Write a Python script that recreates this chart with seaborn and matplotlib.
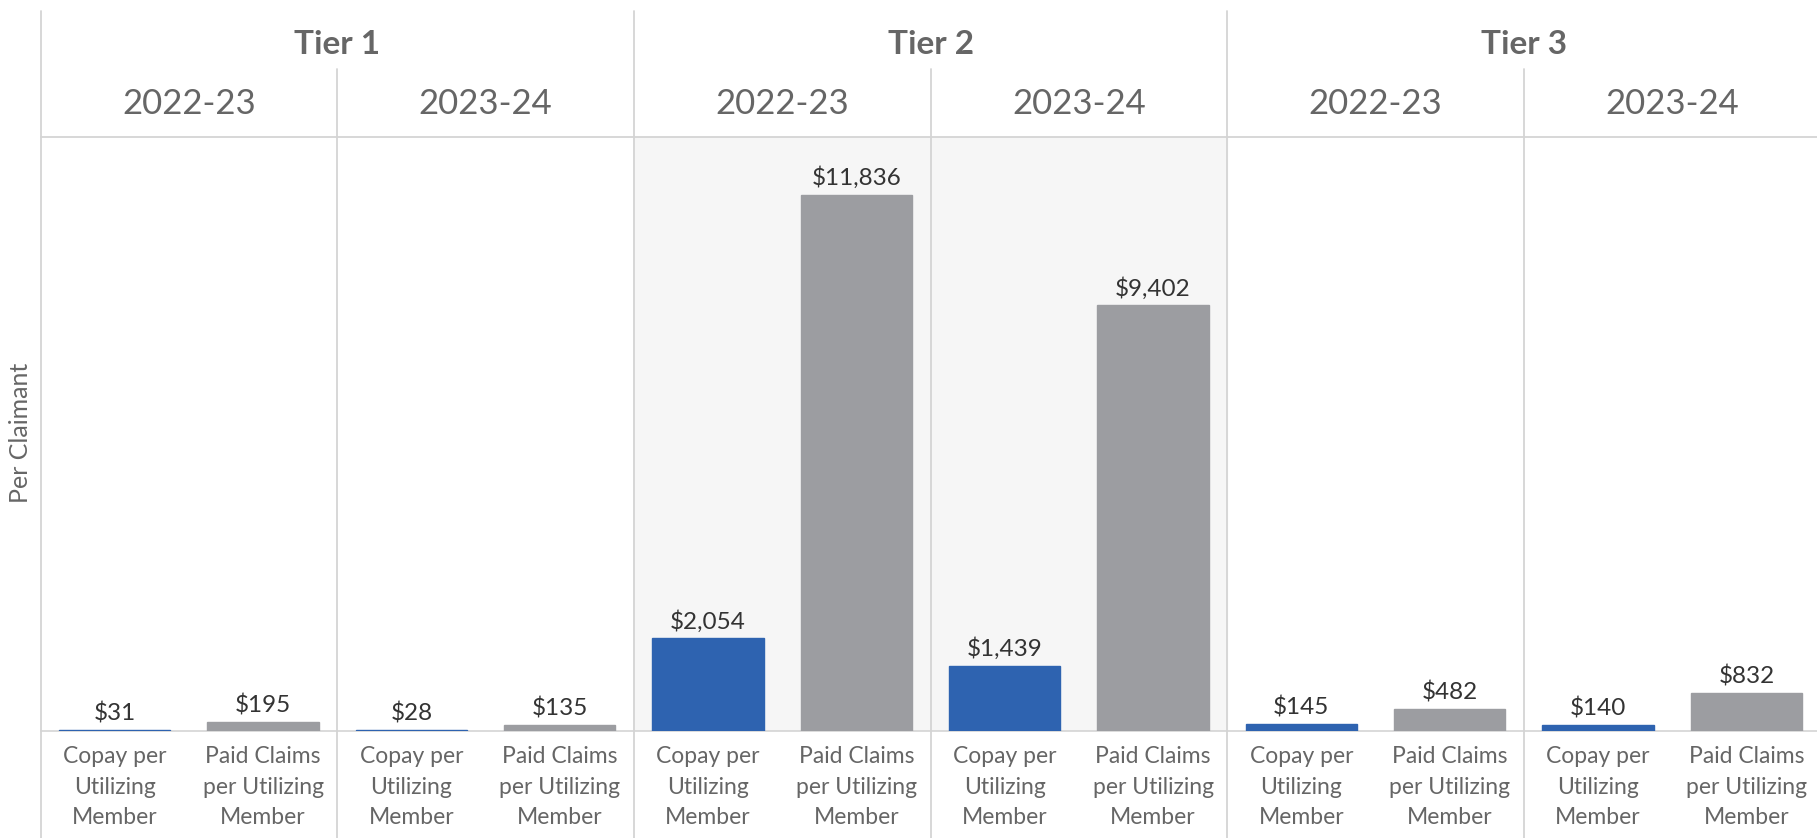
import pandas as pd
import matplotlib.pyplot as plt
import matplotlib.transforms as mtransforms
from matplotlib.lines import Line2D
import seaborn as sns

# Datos del grafico
tiers = ['Tier 1', 'Tier 2', 'Tier 3']
years = ['2022-23', '2023-24']
measures = ['Copay per\nUtilizing\nMember', 'Paid Claims\nper Utilizing\nMember']
copay = [31, 28, 2054, 1439, 145, 140]
paid = [195, 135, 11836, 9402, 482, 832]

# Tabla larga: un registro por barra
rows = []
k = 0
for t in tiers:
    for y in years:
        rows.append({'slot': f'{t}|{y}|c', 'measure': 'copay', 'value': copay[k]})
        rows.append({'slot': f'{t}|{y}|p', 'measure': 'paid', 'value': paid[k]})
        k += 1
df = pd.DataFrame(rows)

sns.set_theme(style='white')
plt.rcParams['font.family'] = ['Lato', 'DejaVu Sans']

W, H = 1817, 838
fig = plt.figure(figsize=(W / 100, H / 100), dpi=100)
ax = fig.add_axes([40.6 / W, 1 - 731 / H, 1 - 40.6 / W, (731 - 137) / H])

# Fondo gris del Tier 2
ax.axvspan(3.5, 7.5, color='#f6f6f6', zorder=0, lw=0)

sns.barplot(data=df, x='slot', y='value', hue='measure',
            palette={'copay': '#2e63b0', 'paid': '#9c9da1'}, saturation=1,
            width=0.75, dodge=False, legend=False, ax=ax, zorder=3)

# borde del mismo color para que las barras pequeñas se vean
for p in ax.patches:
    p.set_edgecolor(p.get_facecolor())
    p.set_linewidth(1.0)

for cont in ax.containers:
    ax.bar_label(cont, labels=[f'${v:,.0f}' for v in cont.datavalues],
                 padding=4, fontsize=17.5, color='#333333')

ax.set_ylim(0, 13114)
ax.set_xlim(-0.5, 11.476)
ax.set_yticks([])
ax.set_xlabel('')
ax.set_ylabel('')
ax.set_xticks(range(12))
ax.set_xticklabels(measures * 6, fontsize=16.5, color='#666666', linespacing=1.56)
ax.tick_params(axis='x', length=0, pad=11)
for s in ['top', 'right', 'left']:
    ax.spines[s].set_visible(False)
ax.spines['bottom'].set_color('#d4d4d4')
ax.spines['bottom'].set_linewidth(1.2)
ax.spines['bottom'].set_zorder(2.5)

# Lineas de la rejilla de paneles
tr = mtransforms.blended_transform_factory(ax.transData, fig.transFigure)
line_col = '#d4d4d4'
for xb in [-0.5, 3.5, 7.5]:
    fig.add_artist(Line2D([xb, xb], [0, 1 - 11 / H], transform=tr, color=line_col, lw=1.3))
for xb in [1.5, 5.5, 9.5]:
    fig.add_artist(Line2D([xb, xb], [0, 1 - 69 / H], transform=tr, color=line_col, lw=1.3))
fig.add_artist(Line2D([-0.5, 12], [1 - 137 / H, 1 - 137 / H], transform=tr, color=line_col, lw=1.3))

# Encabezados
for i, t in enumerate(tiers):
    fig.text(i * 4 + 1.5, 1 - 44 / H, t, transform=tr, ha='center', va='center',
             fontsize=24, fontweight='bold', color='#666666')
    for j, y in enumerate(years):
        fig.text(i * 4 + j * 2 + 0.5, 1 - 104 / H, y, transform=tr, ha='center', va='center',
                 fontsize=25, color='#666666')

fig.text(20 / W, 1 - 433 / H, 'Per Claimant', rotation=90, ha='center', va='center',
         fontsize=18, color='#666666')

fig.savefig('out.png', dpi=100)
